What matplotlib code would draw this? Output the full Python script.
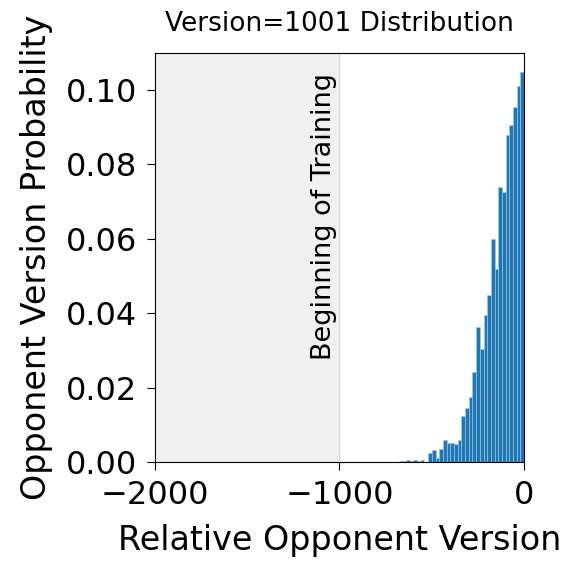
import matplotlib
matplotlib.use("Agg")
import matplotlib.pyplot as plt

# histogram of opponent versions relative to current version (bin width 20)
bin_left = [-680, -660, -640, -620, -600, -580, -560, -540, -520, -500,
            -480, -460, -440, -420, -400, -380, -360, -340, -320, -300,
            -280, -260, -240, -220, -200, -180, -160, -140, -120, -100,
            -80, -60, -40, -20]
probs = [0.0003, 0.0002, 0.0004, 0.0003, 0.0004, 0.0002, 0.0005, 0.0, 0.0024, 0.0031,
         0.0010, 0.0036, 0.0058, 0.0051, 0.0050, 0.0049, 0.0058, 0.0124, 0.0146, 0.0175,
         0.0242, 0.0363, 0.0304, 0.0395, 0.0450, 0.0600, 0.0520, 0.0740, 0.0726, 0.0880,
         0.0906, 0.0955, 0.1010, 0.1048]
yticks = [0.0, 0.02, 0.04, 0.06, 0.08, 0.10]
xticks = [-2000, -1000, 0]

fig = plt.figure(figsize=(5.63, 5.62), dpi=100)
ax = fig.add_axes([0.275, 0.178, 0.656, 0.728])

ax.axvspan(-2000, -1000, color='#f0f0f0', zorder=0)
ax.axvline(-1000, color='#dcdcdc', lw=1, zorder=1)
ax.bar(bin_left, probs, width=20, align='edge', color='#1f77b4',
       edgecolor='#a9c8e3', linewidth=0.4, zorder=2)

ax.text(-1012, 0.1045, 'Beginning of Training', rotation=90, ha='right', va='top',
        fontsize=19.5)

ax.set_xlim(-2000, 0)
ax.set_ylim(0, 0.11)
ax.set_xticks(xticks)
ax.set_yticks(yticks)
ax.set_yticklabels(['%.2f' % v for v in yticks])
ax.tick_params(labelsize=23, length=6, pad=7)
ax.set_title('Version=1001 Distribution', fontsize=19, pad=16)
ax.set_xlabel('Relative Opponent Version', fontsize=24, labelpad=9)
ax.set_ylabel('Opponent Version Probability', fontsize=24, labelpad=9)

fig.savefig('out.png', dpi=100)
